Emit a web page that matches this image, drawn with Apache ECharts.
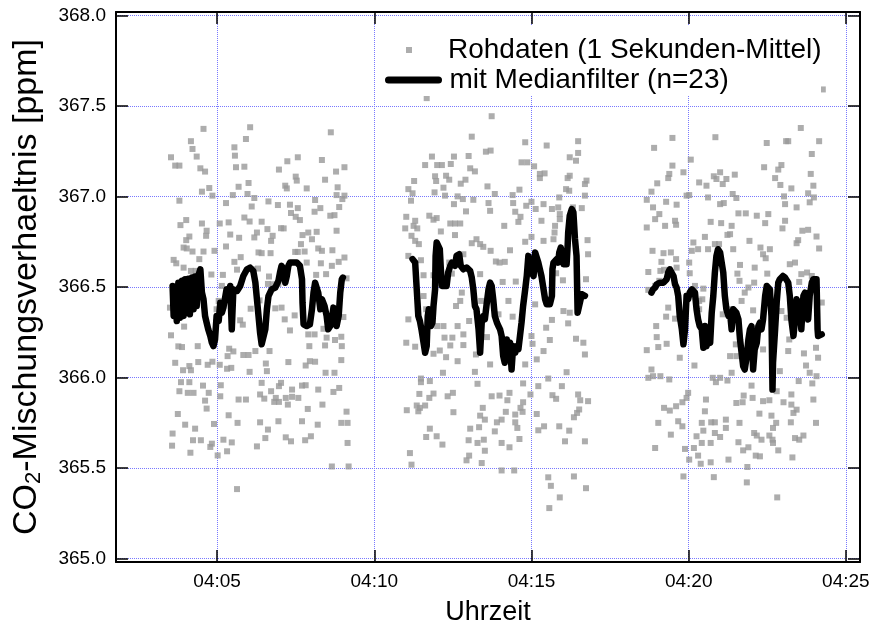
<!DOCTYPE html>
<html><head><meta charset="utf-8">
<script src="https://cdn.jsdelivr.net/npm/echarts@6/dist/echarts.min.js"></script>
<style>html,body{margin:0;padding:0;background:#fff}#c{width:874px;height:631px}</style>
</head><body><div id="c"></div>
<script>
// time: seconds after 04:00:00, value: CO2 mixing ratio [ppm]
const rawSeg1 = [[274,367.374],[363,367.383],[250,367.306],[355,367.318],[253,367.263],[333,367.272],[212,367.217],[261,367.221],[334,367.226],[220,367.171],[228,367.171],[268,367.156],[277,367.138],[336,367.162],[352,367.165],[285,367.047],[271,367.027],[341,367.054],[360,367.075],[291,367.005],[330,367.008],[358,367.014],[371,366.992],[228,366.977],[317,366.964],[366,366.945],[230,366.842],[241,366.870],[271,366.851],[305,366.851],[322,366.857],[352,366.884],[362,366.862],[280,366.811],[325,366.790],[247,366.779],[241,366.759],[279,366.783],[342,366.772],[371,366.774],[236,366.718],[242,366.713],[253,366.696],[274,366.696],[295,366.700],[317,366.724],[217,366.650],[222,366.631],[266,366.654],[333,366.639],[345,366.665],[236,366.607],[250,366.589],[259,366.589],[289,366.569],[311,366.567],[338,366.596],[369,366.598],[309,366.506],[303,366.423],[210,366.386],[299,366.377],[364,366.380],[344,366.316],[349,366.292],[237,366.281],[212,366.233],[226,366.172],[233,366.168],[263,366.173],[323,366.159],[331,366.144],[350,366.124],[360,366.124],[320,366.118],[220,366.081],[264,366.085],[291,366.087],[235,366.040],[247,366.063],[250,366.040],[282,366.070],[305,366.070],[319,366.048],[327,366.053],[362,366.031],[231,365.974],[247,365.974],[273,365.955],[307,365.957],[228,365.924],[244,365.915],[255,365.915],[284,365.915],[306,365.896],[277,365.872],[341,365.878],[355,365.878],[280,365.828],[225,365.798],[322,365.791],[239,365.739],[258,365.717],[294,365.743],[339,365.749],[215,365.690],[214,365.623],[254,365.653],[269,365.653],[287,365.616],[290,365.634],[312,365.656],[328,365.641],[249,365.584],[301,365.569],[319,365.592],[338,365.383],
[517,367.355],[434,367.195],[454,367.217],[500,367.202],[418,367.149],[450,367.110],[452,367.088],[527,367.138],[543,367.162],[430,367.060],[433,367.045],[471,367.045],[506,367.093],[530,367.051],[398,366.973],[416,366.953],[439,366.955],[454,366.936],[487,366.981],[497,366.936],[528,367.008],[543,367.005],[539,366.986],[533,366.942],[385,366.861],[441,366.909],[450,366.888],[458,366.870],[486,366.916],[516,366.894],[524,366.897],[376,366.801],[396,366.820],[406,366.783],[422,366.825],[427,366.824],[403,366.755],[463,366.787],[474,366.801],[481,366.764],[490,366.805],[528,366.811],[460,366.737],[379,366.691],[385,366.687],[402,366.687],[449,366.694],[454,366.694],[467,366.696],[493,366.713],[500,366.700],[520,366.703],[543,366.663],[532,366.639],[519,366.617],[498,366.631],[471,366.635],[378,366.602],[399,366.558],[397,366.517],[406,366.515],[417,366.517],[489,366.567],[508,366.571],[547,366.548],[381,366.426],[411,366.382],[423,366.386],[448,366.343],[429,366.321],[439,366.260],[503,366.269],[541,366.334],[474,366.238],[486,366.238],[509,366.220],[525,366.207],[537,366.225],[538,366.173],[506,366.177],[476,366.173],[373,366.146],[400,366.146],[393,366.077],[395,366.035],[436,366.085],[469,366.066],[477,366.090],[487,366.087],[507,366.026],[524,366.026],[537,366.096],[385,365.970],[422,365.970],[418,365.952],[462,365.955],[469,365.957],[493,365.933],[522,365.920],[533,365.942],[382,365.906],[390,365.883],[403,365.924],[412,365.887],[409,365.865],[418,365.865],[431,365.887],[443,365.893],[455,365.887],[443,365.933],[435,365.850],[473,365.826],[501,365.850],[547,365.811],[382,365.752],[397,365.712],[417,365.758],[462,365.758],[492,365.739],[537,365.749],[549,365.749],[392,365.665],[431,365.669],[441,365.647],[468,365.653],[479,365.675],[376,365.619],[549,365.638],[519,365.508],[551,365.508]];

const rawSeg2 = [[700,367.544],[824,367.444],[786,367.331],[813,367.248],[822,367.254],[710,367.221],[697,367.174],[720,367.174],[729,367.174],[746,367.180],[752,367.221],[780,367.224],[783,367.156],[792,367.139],[676,367.086],[716,367.112],[718,367.086],[737,367.115],[743,367.093],[765,367.071],[774,367.093],[665,367.041],[673,367.018],[670,366.977],[715,367.023],[732,367.049],[735,367.005],[752,366.958],[759,367.001],[769,366.986],[789,366.982],[816,367.056],[818,366.964],[821,366.921],[775,366.918],[661,366.888],[678,366.866],[675,366.838],[659,366.824],[682,366.824],[705,366.894],[713,366.872],[719,366.881],[727,366.807],[745,366.851],[754,366.851],[764,366.851],[754,366.787],[671,366.783],[678,366.755],[685,366.737],[786,366.742],[795,366.764],[802,366.737],[808,366.722],[665,366.672],[689,366.648],[694,366.565],[713,366.565],[743,366.635],[748,366.574],[770,366.681],[802,366.571],[767,366.469],[694,366.450],[764,366.423],[756,366.395],[804,366.423],[699,366.377],[665,366.321],[781,366.312],[720,366.284],[732,366.284],[734,366.220],[749,366.220],[759,366.284],[770,366.238],[815,366.223],[661,366.192],[678,366.170],[713,366.131],[725,366.149],[745,366.177],[770,366.179],[737,366.112],[759,366.090],[821,366.072],[794,366.127],[731,366.026],[792,366.031],[689,365.994],[706,365.980],[689,365.974],[797,365.965],[686,365.909],[713,365.911],[705,365.887],[740,365.896],[750,365.915],[662,365.819],[681,365.845],[687,365.832],[697,365.845],[684,365.813],[751,365.808],[807,365.832],[802,365.789],[811,365.767],[706,365.717],[783,365.717],[800,365.725],[699,365.671],[719,365.675],[730,365.629],[780,365.653],[797,365.638],[809,365.656],[811,365.595],[668,365.582],[671,365.518],[781,365.568],[776,365.542],[805,365.527],
[888,367.300],[929,367.282],[989,367.306],[989,367.241],[973,367.217],[985,367.198],[881,367.189],[892,367.189],[905,367.167],[916,367.125],[925,367.128],[916,367.102],[973,367.115],[969,367.102],[1005,367.088],[1002,367.069],[877,367.038],[864,367.008],[830,367.014],[966,367.041],[972,367.032],[953,366.995],[1002,367.005],[865,366.964],[890,366.949],[900,366.971],[908,366.931],[923,366.958],[939,366.931],[951,366.940],[954,366.903],[979,366.940],[996,366.936],[869,366.916],[879,366.888],[875,366.860],[848,366.838],[919,366.866],[954,366.875],[945,366.838],[944,366.801],[888,366.750],[900,366.777],[923,366.755],[942,366.764],[1007,366.759],[859,366.703],[832,366.641],[849,366.639],[822,366.700],[839,366.635],[1008,366.681],[845,366.528],[870,366.530],[947,366.576],[960,366.537],[1004,366.543],[856,366.423],[907,366.404],[837,366.349],[864,366.336],[961,366.367],[973,366.358],[939,366.318],[928,366.275],[970,366.299],[900,366.229],[935,366.207],[985,366.214],[999,366.192],[910,366.100],[923,366.146],[888,366.072],[902,366.186],[1002,366.127],[967,366.029],[884,365.967],[913,365.952],[932,365.994],[958,365.952],[824,365.896],[839,365.900],[858,365.915],[854,365.874],[898,365.906],[940,365.902],[947,365.882],[989,365.906],[993,365.874],[1008,365.869],[851,365.810],[869,365.795],[884,365.863],[879,365.832],[883,365.810],[834,365.752],[843,365.767],[830,365.702],[869,365.752],[873,365.721],[910,365.798],[913,365.708],[924,365.730],[953,365.730],[972,365.706],[981,365.780],[987,365.804],[991,365.823],[877,365.660],[843,365.638],[858,365.614],[964,365.647],[1002,365.647],[843,365.486],[867,365.486],[932,365.448],[937,365.401],[954,365.337],[934,365.278],[981,365.453],[1004,365.388]];

const rawSeg3 = [[1169,367.324],[1251,367.328],[1134,367.269],[1204,367.204],[1169,367.171],[1190,367.134],[1163,367.125],[1161,367.102],[1140,367.073],[1129,367.027],[1248,367.112],[1260,367.134],[1253,367.097],[1265,367.069],[1272,367.097],[1220,367.078],[1234,367.060],[1120,366.982],[1157,366.971],[1177,366.955],[1196,367.005],[1201,367.008],[1237,366.995],[1260,366.958],[1267,366.964],[1132,366.940],[1144,366.903],[1136,366.875],[1120,366.829],[1155,366.838],[1174,366.866],[1176,366.844],[1242,366.860],[1262,366.853],[1231,366.777],[1274,366.788],[1131,366.700],[1152,366.687],[1166,366.691],[1209,366.746],[1206,366.700],[1218,366.709],[1237,366.709],[1250,366.737],[1258,366.737],[1148,366.639],[1176,366.654],[1201,366.635],[1123,366.583],[1146,366.589],[1153,366.595],[1202,366.576],[1177,366.607],[1144,366.534],[1136,366.506],[1123,366.484],[1212,366.506],[1228,366.491],[1226,366.432],[1161,366.386],[1220,366.423],[1220,366.377],[1157,366.336],[1174,366.325],[1138,366.284],[1265,366.349],[1282,366.377],[1139,366.223],[1158,366.186],[1142,366.168],[1120,366.151],[1183,366.109],[1211,366.066],[1129,366.044],[1123,365.998],[1132,366.007],[1146,366.007],[1163,365.989],[1252,365.974],[1260,365.998],[1274,365.983],[1246,365.998],[1199,365.915],[1196,365.887],[1188,365.863],[1176,365.841],[1153,365.832],[1164,365.817],[1233,365.878],[1231,365.813],[1180,365.758],[1188,365.730],[1142,365.749],[1166,365.684],[1225,365.749],[1243,365.752],[1250,365.752],[1271,365.767],[1260,365.671],[1271,365.721],[1250,365.693],[1228,365.706],[1215,365.675],[1225,365.638],[1242,365.638],[1136,365.610],[1193,365.605],[1210,365.610],[1218,365.568],[1201,365.546],[1223,365.523],[1242,365.531],[1276,365.546],[1190,365.453],[1248,365.449],
[1456,367.592],[1414,367.379],[1349,367.296],[1386,367.306],[1390,367.306],[1449,367.306],[1435,367.235],[1344,367.162],[1371,367.149],[1377,367.174],[1365,367.102],[1433,367.125],[1375,367.064],[1396,367.045],[1438,367.060],[1288,367.121],[1284,367.014],[1291,366.992],[1382,367.001],[1384,366.958],[1406,366.940],[1428,367.018],[1431,366.968],[1439,366.995],[1295,366.907],[1309,366.907],[1330,366.894],[1352,366.903],[1346,366.853],[1282,366.838],[1384,366.866],[1379,366.824],[1417,366.811],[1428,366.816],[1279,366.792],[1285,366.709],[1316,366.755],[1337,366.718],[1355,366.709],[1342,366.681],[1347,366.659],[1409,366.759],[1406,366.742],[1444,366.779],[1449,366.713],[1326,366.607],[1298,366.622],[1293,366.574],[1297,366.534],[1350,366.574],[1393,366.626],[1403,366.635],[1415,366.571],[1426,366.580],[1411,366.528],[1435,366.561],[1314,366.497],[1307,366.469],[1325,366.524],[1301,366.423],[1323,366.371],[1377,366.367],[1387,366.330],[1396,366.349],[1409,366.395],[1424,366.321],[1454,366.414],[1282,366.293],[1290,366.183],[1291,366.118],[1282,366.026],[1279,366.118],[1330,366.210],[1342,366.155],[1374,366.035],[1390,366.146],[1392,366.210],[1420,366.133],[1424,366.066],[1443,366.164],[1447,366.109],[1431,366.026],[1444,366.007],[1410,365.980],[1436,365.967],[1291,365.859],[1305,365.900],[1303,365.863],[1320,365.955],[1322,365.887],[1342,365.869],[1354,365.874],[1368,365.924],[1381,365.863],[1396,365.906],[1396,365.850],[1406,365.822],[1400,365.804],[1438,365.878],[1335,365.800],[1297,365.749],[1358,365.789],[1367,365.749],[1361,365.721],[1395,365.752],[1443,365.749],[1325,365.693],[1330,365.679],[1339,365.656],[1354,365.679],[1360,365.656],[1361,365.638],[1403,365.665],[1419,365.679],[1411,365.656],[1295,365.642],[1304,365.597],[1314,365.614],[1328,365.568],[1336,365.564],[1371,365.597],[1398,365.558],[1312,365.505],[1311,365.420],[1369,365.337]];

const medSeg1 = [[215,366.506],[217,366.34],[220,366.469],[223,366.312],[226,366.524],[229,366.33],[233,366.534],[236,366.34],[239,366.543],[242,366.358],[245,366.546],[248,366.349],[252,366.552],[255,366.377],[258,366.558],[261,366.395],[264,366.561],[268,366.598],[271,366.469],[274,366.432],[277,366.34],[280,366.303],[283,366.266],[287,366.229],[290,366.192],[293,366.173],[296,366.21],[299,366.34],[303,366.312],[306,366.413],[309,366.358],[312,366.386],[315,366.377],[318,366.487],[322,366.432],[325,366.506],[328,366.266],[331,366.487],[338,366.478],[344,366.506],[350,366.561],[357,366.598],[363,366.607],[369,366.589],[373,366.524],[376,366.432],[379,366.34],[382,366.247],[385,366.183],[388,366.183],[392,366.266],[395,366.377],[398,366.45],[404,366.487],[411,366.497],[417,366.534],[420,366.58],[423,366.617],[427,366.598],[430,366.524],[433,366.561],[436,366.617],[439,366.635],[446,366.635],[452,366.635],[458,366.617],[462,366.543],[463,366.413],[465,366.293],[471,366.284],[477,366.293],[481,366.377],[484,366.469],[487,366.524],[490,366.524],[493,366.469],[497,366.377],[500,366.432],[505,366.395],[509,366.34],[512,366.266],[516,366.284],[519,366.321],[522,366.386],[525,366.34],[528,366.284],[532,366.34],[535,366.469],[538,366.543],[540,366.552]];

const medSeg2 = [[673,366.654],[678,366.635],[681,366.487],[684,366.34],[687,366.312],[690,366.266],[694,366.192],[697,366.137],[700,366.174],[702,366.34],[704,366.377],[708,366.284],[711,366.303],[713,366.395],[716,366.487],[717,366.672],[719,366.746],[722,366.746],[725,366.709],[727,366.598],[729,366.506],[732,366.497],[738,366.506],[741,366.58],[745,366.617],[748,366.635],[754,366.617],[757,366.672],[762,366.681],[765,366.617],[770,366.598],[776,366.608],[783,366.589],[786,366.552],[789,366.487],[792,366.395],[795,366.377],[799,366.266],[802,366.137],[805,366.303],[808,366.34],[811,366.321],[814,366.395],[818,366.487],[821,366.524],[824,366.506],[827,366.432],[830,366.34],[834,366.303],[837,366.284],[840,366.266],[843,366.229],[846,366.118],[849,366.081],[853,366.21],[856,366.118],[859,366.192],[862,366.044],[865,366.174],[869,366.137],[872,366.174],[875,366.155],[878,366.229],[881,366.303],[884,366.395],[888,366.487],[891,366.561],[894,366.672],[897,366.681],[900,366.58],[904,366.561],[907,366.691],[910,366.7],[913,366.635],[916,366.598],[919,366.561],[923,366.487],[926,366.432],[929,366.404],[935,366.404],[939,366.451],[940,366.598],[942,366.635],[948,366.654],[951,366.635],[953,366.691],[956,366.718],[958,366.672],[961,366.626],[967,366.626],[969,366.728],[970,366.801],[973,366.894],[977,366.931],[980,366.912],[983,366.765],[986,366.672],[988,366.358],[991,366.349],[996,366.46],[999,366.469],[1002,366.451]];

const medSeg3 = [[1129,366.469],[1132,366.487],[1136,366.497],[1139,366.515],[1142,366.506],[1145,366.524],[1148,366.515],[1152,366.524],[1155,366.515],[1158,366.543],[1161,366.58],[1164,366.598],[1167,366.607],[1171,366.561],[1174,366.515],[1177,366.497],[1180,366.451],[1183,366.34],[1187,366.266],[1190,366.183],[1193,366.266],[1196,366.451],[1199,366.432],[1202,366.469],[1206,366.487],[1209,366.478],[1212,366.469],[1215,366.377],[1218,366.321],[1221,366.284],[1225,366.266],[1228,366.164],[1231,366.284],[1234,366.173],[1237,366.21],[1241,366.192],[1244,366.358],[1247,366.451],[1250,366.58],[1253,366.672],[1256,366.709],[1260,366.691],[1263,366.635],[1266,366.58],[1269,366.451],[1272,366.377],[1276,366.34],[1279,366.358],[1282,366.266],[1285,366.377],[1288,366.367],[1291,366.358],[1295,366.321],[1298,366.21],[1301,366.137],[1304,366.063],[1307,366.044],[1311,366.118],[1314,366.21],[1317,366.266],[1320,366.284],[1323,366.044],[1326,366.155],[1330,366.192],[1333,366.284],[1336,366.303],[1339,366.266],[1342,366.321],[1346,366.451],[1349,366.506],[1352,366.506],[1355,366.487],[1358,366.34],[1360,365.933],[1361,366.081],[1365,366.266],[1368,366.414],[1371,366.524],[1374,366.543],[1377,366.552],[1380,366.561],[1384,366.552],[1387,366.543],[1390,366.524],[1393,366.451],[1396,366.321],[1400,366.229],[1403,366.321],[1406,366.432],[1409,366.432],[1412,366.395],[1415,366.266],[1419,366.451],[1422,366.469],[1425,366.358],[1428,366.321],[1431,366.451],[1435,366.524],[1438,366.543],[1441,366.552],[1444,366.543],[1446,366.266],[1447,366.229],[1454,366.238]];

const xTickValues = [300, 600, 900, 1200, 1500];
const xTickLabels = ['04:05', '04:10', '04:15', '04:20', '04:25'];
const yTickValues = [365.0, 365.5, 366.0, 366.5, 367.0, 367.5, 368.0];
const yTickLabels = ['365.0', '365.5', '366.0', '366.5', '367.0', '367.5', '368.0'];

const rawName = 'Rohdaten (1 Sekunden-Mittel)';
const medName = 'mit Medianfilter (n=23)';
const FONT = '"Liberation Sans", Arial, Helvetica, sans-serif';

function xLabel(v) {
  const i = xTickValues.findIndex(t => Math.abs(t - v) < 1e-6);
  return i >= 0 ? xTickLabels[i] : '';
}
function yLabel(v) {
  const i = yTickValues.findIndex(t => Math.abs(t - v) < 1e-6);
  return i >= 0 ? yTickLabels[i] : '';
}

const frameLine = { show: true, onZero: false, lineStyle: { color: '#000', width: 2 } };
const innerTick = { show: true, inside: true, length: 12, lineStyle: { color: '#000', width: 1.5 } };
const gridLine = { show: true, lineStyle: { color: '#7878ff', type: 'dotted', width: 1 } };

const chart = echarts.init(document.getElementById('c'), null, { renderer: 'canvas' });
const medStyle = { color: '#000', width: 6.5, cap: 'round', join: 'round' };
const option = {
  animation: false,
  backgroundColor: '#fff',
  textStyle: { fontFamily: FONT },
  grid: { left: 116, right: 14, top: 12, bottom: 69, containLabel: false },
  xAxis: [
    {
      type: 'value', position: 'bottom', min: 107, max: 1527,
      minInterval: 300, maxInterval: 300,
      axisLine: frameLine, axisTick: innerTick, splitLine: gridLine,
      axisLabel: { formatter: xLabel, fontSize: 19, color: '#000', margin: 10, fontFamily: FONT, showMinLabel: false, showMaxLabel: false },
      name: 'Uhrzeit', nameLocation: 'middle', nameGap: 37,
      nameTextStyle: { fontSize: 27, color: '#000', fontFamily: FONT }
    },
    {
      type: 'value', position: 'top', min: 107, max: 1527,
      minInterval: 300, maxInterval: 300,
      axisLine: frameLine, axisTick: innerTick, splitLine: { show: false },
      axisLabel: { show: false }
    }
  ],
  yAxis: [
    {
      type: 'value', position: 'left', min: 364.98, max: 368.02,
      minInterval: 0.5, maxInterval: 0.5,
      axisLine: frameLine, axisTick: innerTick, splitLine: gridLine,
      axisLabel: { formatter: yLabel, fontSize: 19, color: '#000', margin: 10, fontFamily: FONT, showMinLabel: false, showMaxLabel: false },
      name: '{a|CO}{b|2}{a|-Mischungsverhaeltnis [ppm]}', nameLocation: 'middle', nameGap: 71,
      nameTextStyle: {
        color: '#000', fontFamily: FONT,
        rich: {
          a: { fontSize: 34, color: '#000', fontFamily: FONT },
          b: { fontSize: 22, color: '#000', fontFamily: FONT, padding: [15, 0, 0, 0] }
        }
      }
    },
    {
      type: 'value', position: 'right', min: 364.98, max: 368.02,
      minInterval: 0.5, maxInterval: 0.5,
      axisLine: frameLine, axisTick: innerTick, splitLine: { show: false },
      axisLabel: { show: false }
    }
  ],
  legend: [
    {
      data: [{ name: rawName, icon: 'path://M0,0L10,0L10,10L0,10Z' }],
      left: 406, top: 36, padding: 0, itemWidth: 50, itemHeight: 6, z: 10,
      textStyle: { fontSize: 28, color: '#000', fontFamily: FONT, padding: [0, 0, 0, 9] },
      selectedMode: false
    },
    {
      data: [medName],
      left: 385, top: 66, padding: 0, itemWidth: 50, itemHeight: 6, z: 10,
      lineStyle: { width: 7, color: '#000' },
      textStyle: { fontSize: 28, color: '#000', fontFamily: FONT, padding: [0, 0, 0, 6] },
      selectedMode: false
    }
  ],
  graphic: [
    { type: 'rect', left: 383, top: 26, z: 8, shape: { width: 438, height: 70 }, style: { fill: '#fff' } }
  ],
  series: [
    {
      name: rawName, type: 'scatter', symbol: 'rect', symbolSize: 6,
      itemStyle: { color: '#999999' }, z: 2,
      data: rawSeg1.concat(rawSeg2, rawSeg3)
    },
    { name: medName, type: 'line', showSymbol: false, symbol: 'none', lineStyle: medStyle, itemStyle: { color: '#000' }, z: 3, data: medSeg1 },
    { name: medName, type: 'line', showSymbol: false, symbol: 'none', lineStyle: medStyle, itemStyle: { color: '#000' }, z: 3, data: medSeg2 },
    { name: medName, type: 'line', showSymbol: false, symbol: 'none', lineStyle: medStyle, itemStyle: { color: '#000' }, z: 3, data: medSeg3 }
  ]
};
chart.setOption(option);
</script>
</body></html>
